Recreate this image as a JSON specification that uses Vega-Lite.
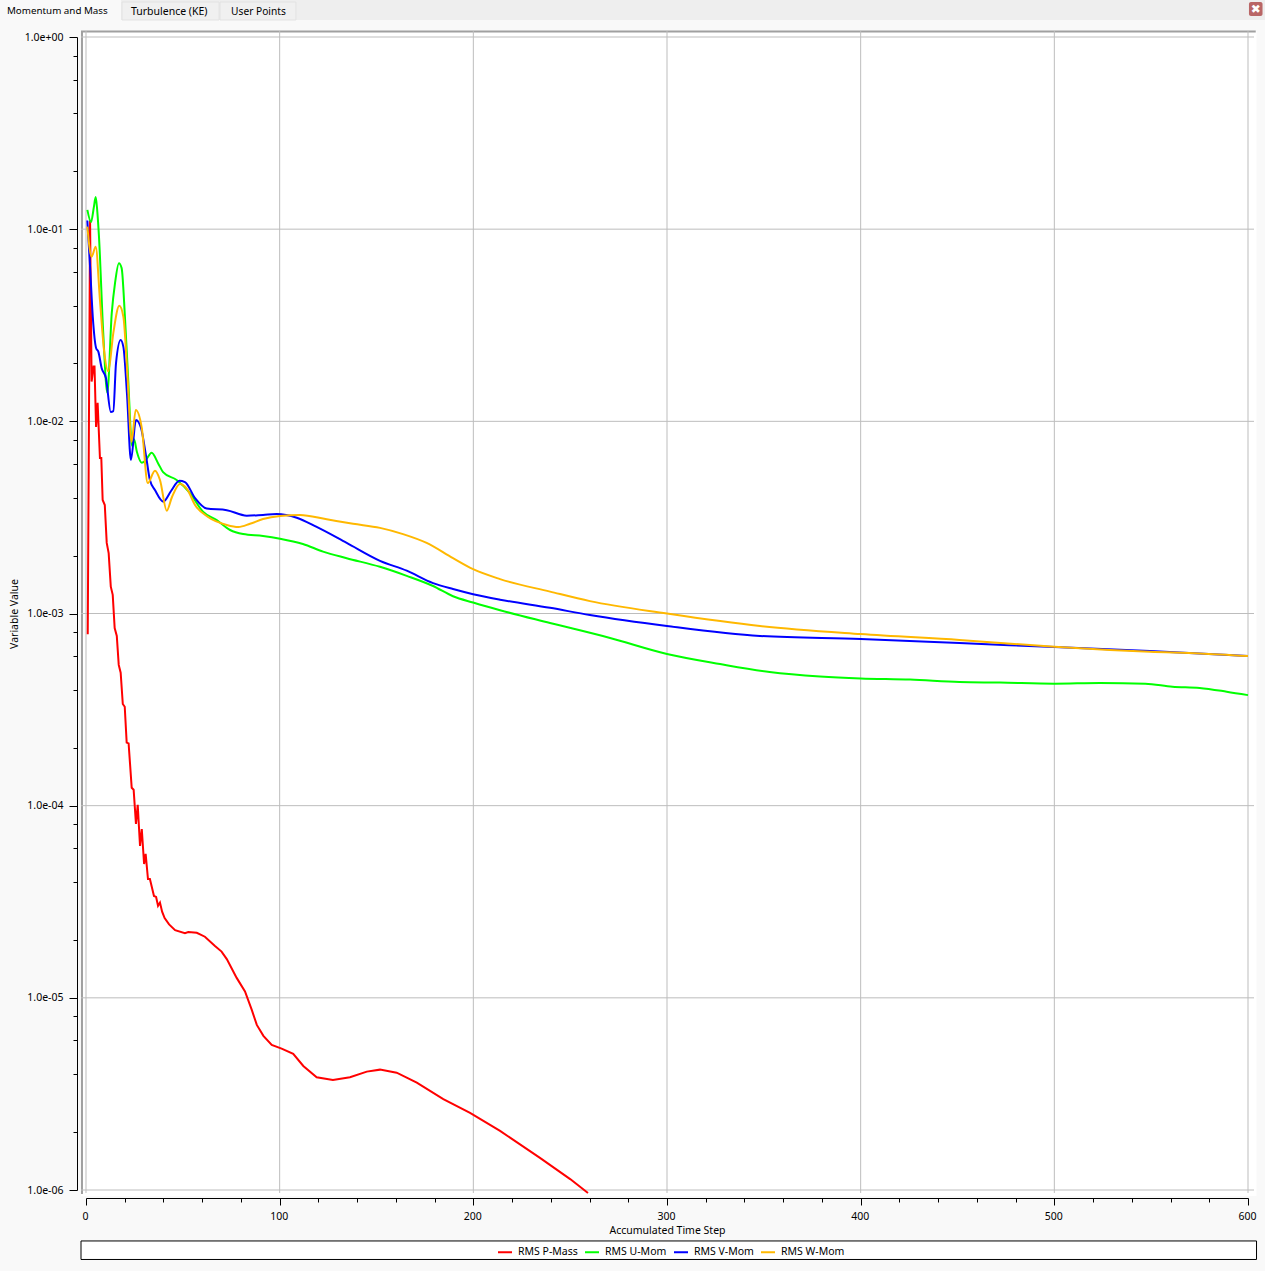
{
  "$schema": "https://vega.github.io/schema/vega-lite/v6.json",
  "width": 1162,
  "height": 1153,
  "autosize": "none",
  "padding": {"left": 86, "top": 37, "right": 17, "bottom": 81},
  "background": "#f9f9f9",
  "config": {"view": {"stroke": null}},
  "datasets": {
    "residuals": [
      {"step":0.9,"series":"RMS P-Mass","value":0.00078},{"step":2.1,"series":"RMS P-Mass","value":0.111},{"step":2.9,"series":"RMS P-Mass","value":0.0161},{"step":3.9,"series":"RMS P-Mass","value":0.0193},{"step":4.4,"series":"RMS P-Mass","value":0.0193},{"step":5.2,"series":"RMS P-Mass","value":0.00934},{"step":6,"series":"RMS P-Mass","value":0.0125},{"step":7.2,"series":"RMS P-Mass","value":0.00644},{"step":7.9,"series":"RMS P-Mass","value":0.00644},{"step":8.6,"series":"RMS P-Mass","value":0.0039},{"step":9.7,"series":"RMS P-Mass","value":0.00367},{"step":10.7,"series":"RMS P-Mass","value":0.00233},{"step":11.7,"series":"RMS P-Mass","value":0.00206},{"step":12.8,"series":"RMS P-Mass","value":0.00138},{"step":13.8,"series":"RMS P-Mass","value":0.00125},{"step":14.8,"series":"RMS P-Mass","value":0.00084},{"step":15.9,"series":"RMS P-Mass","value":0.000764},{"step":16.9,"series":"RMS P-Mass","value":0.00054},{"step":17.9,"series":"RMS P-Mass","value":0.000492},{"step":19,"series":"RMS P-Mass","value":0.000338},{"step":20,"series":"RMS P-Mass","value":0.000327},{"step":21,"series":"RMS P-Mass","value":0.000213},{"step":22,"series":"RMS P-Mass","value":0.000211},{"step":23.6,"series":"RMS P-Mass","value":0.000124},{"step":24.6,"series":"RMS P-Mass","value":0.000121},{"step":25.8,"series":"RMS P-Mass","value":0.0000803},{"step":26.7,"series":"RMS P-Mass","value":0.000101},{"step":27.9,"series":"RMS P-Mass","value":0.0000617},{"step":28.8,"series":"RMS P-Mass","value":0.0000756},{"step":30,"series":"RMS P-Mass","value":0.0000497},{"step":30.8,"series":"RMS P-Mass","value":0.0000561},{"step":32,"series":"RMS P-Mass","value":0.0000415},{"step":33,"series":"RMS P-Mass","value":0.0000415},{"step":35.1,"series":"RMS P-Mass","value":0.0000339},{"step":36.2,"series":"RMS P-Mass","value":0.0000335},{"step":37.2,"series":"RMS P-Mass","value":0.0000301},{"step":38.2,"series":"RMS P-Mass","value":0.0000313},{"step":39.3,"series":"RMS P-Mass","value":0.0000281},{"step":40.6,"series":"RMS P-Mass","value":0.000026},{"step":42.9,"series":"RMS P-Mass","value":0.0000241},{"step":46,"series":"RMS P-Mass","value":0.0000225},{"step":51.1,"series":"RMS P-Mass","value":0.0000217},{"step":52.8,"series":"RMS P-Mass","value":0.000022},{"step":57.2,"series":"RMS P-Mass","value":0.0000218},{"step":61.4,"series":"RMS P-Mass","value":0.0000208},{"step":66.6,"series":"RMS P-Mass","value":0.0000186},{"step":70,"series":"RMS P-Mass","value":0.0000174},{"step":72.7,"series":"RMS P-Mass","value":0.0000159},{"step":77.8,"series":"RMS P-Mass","value":0.0000127},{"step":82.1,"series":"RMS P-Mass","value":0.0000108},{"step":85.6,"series":"RMS P-Mass","value":0.00000865},{"step":88.2,"series":"RMS P-Mass","value":0.00000723},{"step":91.6,"series":"RMS P-Mass","value":0.00000634},{"step":95.9,"series":"RMS P-Mass","value":0.00000569},{"step":101,"series":"RMS P-Mass","value":0.00000544},{"step":107,"series":"RMS P-Mass","value":0.00000511},{"step":112.2,"series":"RMS P-Mass","value":0.00000442},{"step":119.1,"series":"RMS P-Mass","value":0.00000386},{"step":127.5,"series":"RMS P-Mass","value":0.00000374},{"step":136.3,"series":"RMS P-Mass","value":0.00000386},{"step":145,"series":"RMS P-Mass","value":0.00000413},{"step":151.8,"series":"RMS P-Mass","value":0.00000423},{"step":160.4,"series":"RMS P-Mass","value":0.00000408},{"step":170.8,"series":"RMS P-Mass","value":0.00000362},{"step":184.5,"series":"RMS P-Mass","value":0.00000297},{"step":198.3,"series":"RMS P-Mass","value":0.00000252},{"step":213.8,"series":"RMS P-Mass","value":0.00000203},{"step":234.4,"series":"RMS P-Mass","value":0.00000147},{"step":250,"series":"RMS P-Mass","value":0.00000114},{"step":259.2,"series":"RMS P-Mass","value":0.000000965},
      {"step":0.7,"series":"RMS U-Mom","value":0.126},{"step":2.6,"series":"RMS U-Mom","value":0.109},{"step":4.1,"series":"RMS U-Mom","value":0.131},{"step":5,"series":"RMS U-Mom","value":0.147},{"step":5.8,"series":"RMS U-Mom","value":0.125},{"step":6.7,"series":"RMS U-Mom","value":0.0914},{"step":8.9,"series":"RMS U-Mom","value":0.0288},{"step":11,"series":"RMS U-Mom","value":0.0141},{"step":13.3,"series":"RMS U-Mom","value":0.0366},{"step":15,"series":"RMS U-Mom","value":0.0525},{"step":17,"series":"RMS U-Mom","value":0.0665},{"step":18.4,"series":"RMS U-Mom","value":0.0627},{"step":20.1,"series":"RMS U-Mom","value":0.035},{"step":21.8,"series":"RMS U-Mom","value":0.0164},{"step":23.8,"series":"RMS U-Mom","value":0.00744},{"step":24.8,"series":"RMS U-Mom","value":0.00806},{"step":26.3,"series":"RMS U-Mom","value":0.00692},{"step":28.8,"series":"RMS U-Mom","value":0.00609},{"step":30.5,"series":"RMS U-Mom","value":0.00621},{"step":33.9,"series":"RMS U-Mom","value":0.00686},{"step":37.2,"series":"RMS U-Mom","value":0.00606},{"step":39.8,"series":"RMS U-Mom","value":0.00544},{"step":46.8,"series":"RMS U-Mom","value":0.00495},{"step":53.7,"series":"RMS U-Mom","value":0.00423},{"step":60.4,"series":"RMS U-Mom","value":0.00339},{"step":67.5,"series":"RMS U-Mom","value":0.00306},{"step":74.4,"series":"RMS U-Mom","value":0.00272},{"step":81.1,"series":"RMS U-Mom","value":0.00259},{"step":91.4,"series":"RMS U-Mom","value":0.00253},{"step":100.2,"series":"RMS U-Mom","value":0.00245},{"step":112,"series":"RMS U-Mom","value":0.0023},{"step":122.4,"series":"RMS U-Mom","value":0.0021},{"step":134.6,"series":"RMS U-Mom","value":0.00194},{"step":151.8,"series":"RMS U-Mom","value":0.00175},{"step":165.6,"series":"RMS U-Mom","value":0.00157},{"step":179.2,"series":"RMS U-Mom","value":0.00139},{"step":189.5,"series":"RMS U-Mom","value":0.00123},{"step":199.9,"series":"RMS U-Mom","value":0.00114},{"step":213.8,"series":"RMS U-Mom","value":0.00104},{"step":239.6,"series":"RMS U-Mom","value":0.000893},{"step":270.6,"series":"RMS U-Mom","value":0.000746},{"step":300,"series":"RMS U-Mom","value":0.000616},{"step":327.4,"series":"RMS U-Mom","value":0.000546},{"step":353,"series":"RMS U-Mom","value":0.000496},{"step":379,"series":"RMS U-Mom","value":0.00047},{"step":400,"series":"RMS U-Mom","value":0.000459},{"step":425.5,"series":"RMS U-Mom","value":0.000453},{"step":451,"series":"RMS U-Mom","value":0.00044},{"step":472,"series":"RMS U-Mom","value":0.000437},{"step":500,"series":"RMS U-Mom","value":0.000431},{"step":523.6,"series":"RMS U-Mom","value":0.000435},{"step":547,"series":"RMS U-Mom","value":0.000431},{"step":561,"series":"RMS U-Mom","value":0.000416},{"step":575,"series":"RMS U-Mom","value":0.00041},{"step":589,"series":"RMS U-Mom","value":0.000392},{"step":600,"series":"RMS U-Mom","value":0.000376},
      {"step":0.7,"series":"RMS V-Mom","value":0.111},{"step":2.1,"series":"RMS V-Mom","value":0.0638},{"step":3.5,"series":"RMS V-Mom","value":0.035},{"step":5.2,"series":"RMS V-Mom","value":0.0241},{"step":6.4,"series":"RMS V-Mom","value":0.023},{"step":8.1,"series":"RMS V-Mom","value":0.0189},{"step":10.3,"series":"RMS V-Mom","value":0.0168},{"step":12.8,"series":"RMS V-Mom","value":0.0112},{"step":14.1,"series":"RMS V-Mom","value":0.0113},{"step":15.5,"series":"RMS V-Mom","value":0.0201},{"step":17.9,"series":"RMS V-Mom","value":0.0265},{"step":19.3,"series":"RMS V-Mom","value":0.0244},{"step":21.2,"series":"RMS V-Mom","value":0.0137},{"step":23.2,"series":"RMS V-Mom","value":0.00629},{"step":25.8,"series":"RMS V-Mom","value":0.01016},{"step":28.4,"series":"RMS V-Mom","value":0.00923},{"step":31,"series":"RMS V-Mom","value":0.0066},{"step":33,"series":"RMS V-Mom","value":0.00495},{"step":35.6,"series":"RMS V-Mom","value":0.00439},{"step":39.9,"series":"RMS V-Mom","value":0.00382},{"step":43.9,"series":"RMS V-Mom","value":0.00434},{"step":48.2,"series":"RMS V-Mom","value":0.00491},{"step":51.1,"series":"RMS V-Mom","value":0.00483},{"step":56.3,"series":"RMS V-Mom","value":0.00399},{"step":62.3,"series":"RMS V-Mom","value":0.00352},{"step":72.7,"series":"RMS V-Mom","value":0.00345},{"step":83,"series":"RMS V-Mom","value":0.00323},{"step":91.4,"series":"RMS V-Mom","value":0.00326},{"step":98.5,"series":"RMS V-Mom","value":0.00329},{"step":108.8,"series":"RMS V-Mom","value":0.00315},{"step":119.1,"series":"RMS V-Mom","value":0.00282},{"step":134.6,"series":"RMS V-Mom","value":0.00233},{"step":151.8,"series":"RMS V-Mom","value":0.00188},{"step":165.6,"series":"RMS V-Mom","value":0.00167},{"step":179.2,"series":"RMS V-Mom","value":0.00144},{"step":189.5,"series":"RMS V-Mom","value":0.00134},{"step":199.9,"series":"RMS V-Mom","value":0.00126},{"step":213.8,"series":"RMS V-Mom","value":0.00118},{"step":239.6,"series":"RMS V-Mom","value":0.00107},{"step":260.2,"series":"RMS V-Mom","value":0.000982},{"step":300,"series":"RMS V-Mom","value":0.000861},{"step":348,"series":"RMS V-Mom","value":0.000764},{"step":400,"series":"RMS V-Mom","value":0.000737},{"step":451,"series":"RMS V-Mom","value":0.000702},{"step":500,"series":"RMS V-Mom","value":0.000669},{"step":549.4,"series":"RMS V-Mom","value":0.000638},{"step":600,"series":"RMS V-Mom","value":0.000601},
      {"step":0.7,"series":"RMS W-Mom","value":0.103},{"step":2.9,"series":"RMS W-Mom","value":0.0719},{"step":5,"series":"RMS W-Mom","value":0.0811},{"step":7.2,"series":"RMS W-Mom","value":0.0428},{"step":9.3,"series":"RMS W-Mom","value":0.0235},{"step":11.5,"series":"RMS W-Mom","value":0.0182},{"step":14.1,"series":"RMS W-Mom","value":0.0288},{"step":17.2,"series":"RMS W-Mom","value":0.0399},{"step":19.3,"series":"RMS W-Mom","value":0.035},{"step":21.4,"series":"RMS W-Mom","value":0.0174},{"step":23.5,"series":"RMS W-Mom","value":0.00783},{"step":25.7,"series":"RMS W-Mom","value":0.01145},{"step":28.8,"series":"RMS W-Mom","value":0.00923},{"step":31.9,"series":"RMS W-Mom","value":0.00477},{"step":35.6,"series":"RMS W-Mom","value":0.00553},{"step":38.2,"series":"RMS W-Mom","value":0.00495},{"step":41.7,"series":"RMS W-Mom","value":0.00343},{"step":44.4,"series":"RMS W-Mom","value":0.00404},{"step":48.5,"series":"RMS W-Mom","value":0.00472},{"step":52.2,"series":"RMS W-Mom","value":0.00444},{"step":56.3,"series":"RMS W-Mom","value":0.00367},{"step":63,"series":"RMS W-Mom","value":0.00318},{"step":72.7,"series":"RMS W-Mom","value":0.00289},{"step":78.7,"series":"RMS W-Mom","value":0.00282},{"step":84.7,"series":"RMS W-Mom","value":0.00293},{"step":91.4,"series":"RMS W-Mom","value":0.0031},{"step":100.2,"series":"RMS W-Mom","value":0.00322},{"step":110.5,"series":"RMS W-Mom","value":0.00326},{"step":124.3,"series":"RMS W-Mom","value":0.00309},{"step":137.9,"series":"RMS W-Mom","value":0.00293},{"step":151.8,"series":"RMS W-Mom","value":0.00279},{"step":163.7,"series":"RMS W-Mom","value":0.00259},{"step":175.9,"series":"RMS W-Mom","value":0.00233},{"step":189.5,"series":"RMS W-Mom","value":0.00194},{"step":199.9,"series":"RMS W-Mom","value":0.0017},{"step":213.8,"series":"RMS W-Mom","value":0.00151},{"step":239.6,"series":"RMS W-Mom","value":0.0013},{"step":260.2,"series":"RMS W-Mom","value":0.00116},{"step":300,"series":"RMS W-Mom","value":0.001},{"step":348,"series":"RMS W-Mom","value":0.000861},{"step":400,"series":"RMS W-Mom","value":0.000782},{"step":451,"series":"RMS W-Mom","value":0.000728},{"step":500,"series":"RMS W-Mom","value":0.000672},{"step":528.7,"series":"RMS W-Mom","value":0.000646},{"step":549.4,"series":"RMS W-Mom","value":0.000632},{"step":575,"series":"RMS W-Mom","value":0.00062},{"step":600,"series":"RMS W-Mom","value":0.000601}
    ],
    "steps": [{"step":0},{"step":100},{"step":200},{"step":300},{"step":400},{"step":500},{"step":600}],
    "decades": [{"value":1},{"value":0.1},{"value":0.01},{"value":0.001},{"value":0.0001},{"value":0.00001},{"value":0.000001}],
    "one": [{}]
  },
  "layer": [
    {
      "data": {"name": "one"},
      "mark": {"type": "rect", "fill": "#eeeeee"},
      "encoding": {"x": {"datum": -44.41, "type": "quantitative"}, "x2": {"datum": 608.8}, "y": {"datum": 1.558, "type": "quantitative"}, "y2": {"datum": 1.226}}
    },
    {
      "data": {"name": "one"},
      "mark": {"type": "rect", "fill": "#f9f9f9"},
      "encoding": {"x": {"datum": -44.41, "type": "quantitative"}, "x2": {"datum": 18.07}, "y": {"datum": 1.558, "type": "quantitative"}, "y2": {"datum": 1.226}}
    },
    {
      "data": {"name": "one"},
      "mark": {"type": "rect", "fill": "#f0f0f0", "stroke": "#e2e2e2"},
      "encoding": {"x": {"datum": 18.6, "type": "quantitative"}, "x2": {"datum": 68.7}, "y": {"datum": 1.521, "type": "quantitative"}, "y2": {"datum": 1.226}}
    },
    {
      "data": {"name": "one"},
      "mark": {"type": "rect", "fill": "#f0f0f0", "stroke": "#e2e2e2"},
      "encoding": {"x": {"datum": 69.2, "type": "quantitative"}, "x2": {"datum": 108.4}, "y": {"datum": 1.521, "type": "quantitative"}, "y2": {"datum": 1.226}}
    },
    {
      "data": {"name": "one"},
      "mark": {"type": "rect", "fill": "#b96666", "cornerRadius": 2},
      "encoding": {"x": {"datum": 600.5, "type": "quantitative"}, "x2": {"datum": 607.5}, "y": {"datum": 1.521, "type": "quantitative"}, "y2": {"datum": 1.286}}
    },
    {
      "data": {"name": "one"},
      "mark": {"type": "text", "text": "✖", "font": "DejaVu Sans", "fontSize": 12, "fill": "#ffffff", "align": "center", "baseline": "middle"},
      "encoding": {"x": {"datum": 604, "type": "quantitative"}, "y": {"datum": 1.399, "type": "quantitative"}}
    },
    {
      "data": {"name": "one"},
      "mark": {"type": "text", "text": "Momentum and Mass", "font": "Noto Sans", "fontSize": 9.8, "fill": "#000000", "align": "left", "baseline": "middle"},
      "encoding": {"x": {"datum": -40.8, "type": "quantitative"}, "y": {"datum": 1.365, "type": "quantitative"}}
    },
    {
      "data": {"name": "one"},
      "mark": {"type": "text", "text": "Turbulence (KE)", "font": "Noto Sans", "fontSize": 10.5, "fill": "#000000", "align": "left", "baseline": "middle"},
      "encoding": {"x": {"datum": 23.2, "type": "quantitative"}, "y": {"datum": 1.349, "type": "quantitative"}}
    },
    {
      "data": {"name": "one"},
      "mark": {"type": "text", "text": "User Points", "font": "Noto Sans", "fontSize": 10.2, "fill": "#000000", "align": "left", "baseline": "middle"},
      "encoding": {"x": {"datum": 74.9, "type": "quantitative"}, "y": {"datum": 1.349, "type": "quantitative"}}
    },
    {
      "data": {"name": "one"},
      "mark": {"type": "rect", "fill": "#ffffff"},
      "encoding": {"x": {"datum": -2.58, "type": "quantitative"}, "x2": {"datum": 604.4}, "y": {"datum": 1.0745, "type": "quantitative"}, "y2": {"datum": 0.000000931}}
    },
    {
      "data": {"name": "one"},
      "mark": {"type": "rect", "fill": "#ffffff", "stroke": "#000000", "strokeWidth": 1},
      "encoding": {"x": {"datum": -2.58, "type": "quantitative"}, "x2": {"datum": 604.4}, "y": {"datum": 0.000000543, "type": "quantitative"}, "y2": {"datum": 0.000000435}}
    },
    {
      "data": {"name": "one"},
      "mark": {"type": "rule", "stroke": "#a0a0a0", "strokeWidth": 2},
      "encoding": {"x": {"datum": -2.07, "type": "quantitative"}, "y": {"datum": 1.0745, "type": "quantitative"}, "y2": {"datum": 0.000000953}}
    },
    {
      "data": {"name": "one"},
      "mark": {"type": "rule", "stroke": "#a0a0a0", "strokeWidth": 2},
      "encoding": {"y": {"datum": 1.068, "type": "quantitative"}, "x": {"datum": -2.58, "type": "quantitative"}, "x2": {"datum": 604}}
    },
    {
      "data": {"name": "steps"},
      "mark": {"type": "rule", "stroke": "#bdbdbd", "strokeWidth": 1},
      "encoding": {"x": {"field": "step", "type": "quantitative"}, "y": {"datum": 1.0745, "type": "quantitative"}, "y2": {"datum": 0.000000965}}
    },
    {
      "data": {"name": "decades"},
      "mark": {"type": "rule", "stroke": "#bdbdbd", "strokeWidth": 1},
      "encoding": {"y": {"field": "value", "type": "quantitative"}, "x": {"datum": -2.58, "type": "quantitative"}, "x2": {"datum": 603.1}}
    },
    {
      "data": {"name": "residuals"},
      "encoding": {
        "x": {
          "field": "step",
          "type": "quantitative",
          "title": "Accumulated Time Step",
          "scale": {"domain": [0, 600], "nice": false, "zero": false},
          "axis": {
            "values": [0,20,40,60,80,100,120,140,160,180,200,220,240,260,280,300,320,340,360,380,400,420,440,460,480,500,520,540,560,580,600],
            "tickCount": 40,
            "labelExpr": "datum.value % 100 == 0 ? datum.label : ''",
            "grid": false,
            "offset": 8,
            "tickSize": {"expr": "datum.value % 100 == 0 ? 7 : 4"},
            "tickColor": "#000000",
            "domainColor": "#000000",
            "labelFont": "Noto Sans",
            "labelFontSize": 10.5,
            "labelColor": "#000000",
            "labelPadding": 6,
            "labelOffset": -1,
            "labelOverlap": false,
            "labelFlush": false,
            "labelBound": false,
            "format": "d",
            "titleFont": "Noto Sans",
            "titleFontSize": 10.5,
            "titleFontWeight": "normal",
            "titleColor": "#000000",
            "titlePadding": 4
          }
        },
        "y": {
          "field": "value",
          "type": "quantitative",
          "title": "Variable Value",
          "scale": {"type": "log", "domain": [0.000001, 1], "nice": false},
          "axis": {
            "values": [1,0.8,0.6,0.4,0.2,0.1,0.08,0.06,0.04,0.02,0.01,0.008,0.006,0.004,0.002,0.001,0.0008,0.0006,0.0004,0.0002,0.0001,0.00008,0.00006,0.00004,0.00002,0.00001,0.000008,0.000006,0.000004,0.000002,0.000001],
            "tickCount": 40,
            "labelExpr": "abs(log(datum.value)/LN10 - round(log(datum.value)/LN10)) < 0.001 ? '1.0e' + (round(log(datum.value)/LN10) == 0 ? '+00' : '-0' + (-round(log(datum.value)/LN10))) : ''",
            "grid": false,
            "offset": 9,
            "tickSize": {"expr": "abs(log(datum.value)/LN10 - round(log(datum.value)/LN10)) < 0.001 ? 8 : 4"},
            "tickColor": "#000000",
            "domainColor": "#000000",
            "labelFont": "Noto Sans",
            "labelFontSize": 10.5,
            "labelColor": "#000000",
            "labelPadding": 6,
            "labelOverlap": false,
            "labelFlush": false,
            "labelBound": false,
            "titleFont": "Noto Sans",
            "titleFontSize": 10.5,
            "titleFontWeight": "normal",
            "titleColor": "#000000",
            "titlePadding": 5
          }
        },
        "color": {
          "field": "series",
          "type": "nominal",
          "scale": {
            "domain": ["RMS P-Mass", "RMS U-Mom", "RMS V-Mom", "RMS W-Mom"],
            "range": ["#ff0000", "#00ff00", "#0000ff", "#ffb800"]
          },
          "legend": {
            "title": null,
            "orient": "none",
            "legendX": 411,
            "legendY": 1207,
            "direction": "horizontal",
            "columns": 4,
            "columnPadding": 3,
            "symbolType": "stroke",
            "symbolSize": 196,
            "symbolStrokeWidth": 2,
            "labelFont": "Noto Sans",
            "labelFontSize": 10.5,
            "labelColor": "#000000",
            "labelOffset": 5
          }
        }
      },
      "layer": [
        {
          "transform": [{"filter": "datum.series == 'RMS P-Mass'"}],
          "mark": {"type": "line", "strokeWidth": 2, "interpolate": "linear"}
        },
        {
          "transform": [{"filter": "datum.series != 'RMS P-Mass'"}],
          "mark": {"type": "line", "strokeWidth": 2, "interpolate": "monotone"}
        }
      ]
    }
  ]
}
